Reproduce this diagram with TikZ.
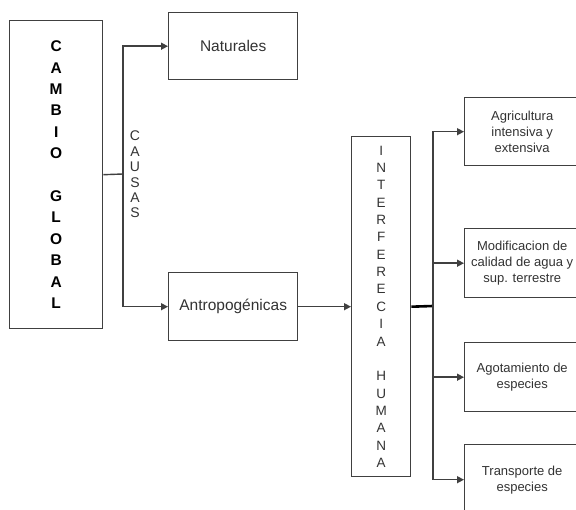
\documentclass[tikz,border=0pt]{standalone}
\usepackage{fontspec}
\setmainfont{Liberation Sans}
\usetikzlibrary{arrows.meta}
\definecolor{ink}{HTML}{333333}
\definecolor{edge}{HTML}{404040}

\begin{document}
\begin{tikzpicture}[x=1pt,y=-1pt,
  box/.style={draw=edge, line width=1.4pt, inner sep=0pt, text=ink, align=center, anchor=north west},
  bigtext/.style={font=\fontsize{15.5}{18}\selectfont},
  smalltext/.style={font=\fontsize{13}{16}\selectfont},
  stack/.style={inner sep=0pt, align=center, text=ink},
  conn/.style={draw=edge, line width=1.4pt},
  arr/.style={conn, -{Triangle[length=7pt,width=7pt]}},
  bus/.style={draw=black, line width=2.6pt}
]
\useasboundingbox (0,0) rectangle (576,510);
\fill[white] (0,0) rectangle (576,510);

% main box with vertical title
\node[box, minimum width=93pt, minimum height=308pt] (cg) at (9,20) {};
\node[stack, text=black, font=\bfseries\fontsize{15.5}{21.4}\selectfont] (cgtext) at (cg.center)
  {C\\A\\M\\B\\I\\O\\\mbox{}\\G\\L\\O\\B\\A\\L};

% causes
\node[box, bigtext, minimum width=129pt, minimum height=67pt] (nat) at (168,12) {Naturales};
\node[box, bigtext, minimum width=129pt, minimum height=68pt] (ant) at (168,272) {Antropogénicas};
\node[stack, font=\fontsize{14}{15.4}\selectfont] (causas) at (135,174.5) {C\\A\\U\\S\\A\\S};

% human interference
\node[box, minimum width=59pt, minimum height=340pt] (inter) at (351,136) {};
\node[stack, font=\fontsize{13.5}{17.35}\selectfont] (intertext) at (inter.center)
  {I\\N\\T\\E\\R\\F\\E\\R\\E\\C\\I\\A\\\mbox{}\\H\\U\\M\\A\\N\\A};

% consequences
\node[box, smalltext, minimum width=115pt, minimum height=68pt] (agr) at (464,97)
  {Agricultura\\intensiva y\\extensiva};
\node[box, smalltext, minimum width=115pt, minimum height=69pt] (mod) at (464,228)
  {Modificacion de\\calidad de agua y\\sup. terrestre};
\node[box, smalltext, minimum width=115pt, minimum height=69pt] (ago) at (464,342)
  {Agotamiento de\\especies};
\node[box, smalltext, minimum width=115pt, minimum height=70pt] (tra) at (464,444)
  {Transporte de\\especies};

% connectors
\coordinate (j1) at (123,174);
\draw[conn] (cg.east) -- (j1);
\draw[arr] (j1) |- (nat.west);
\draw[arr] (j1) |- (ant.west);
\draw[arr] (ant.east) -- (inter.west);

\coordinate (j2) at (433,306);
\draw[bus] (inter.east) -- (j2);
\draw[arr] (j2) |- (agr.west);
\draw[arr] (j2) |- (mod.west);
\draw[arr] (j2) |- (ago.west);
\draw[arr] (j2) |- (tra.west);
\end{tikzpicture}
\end{document}
